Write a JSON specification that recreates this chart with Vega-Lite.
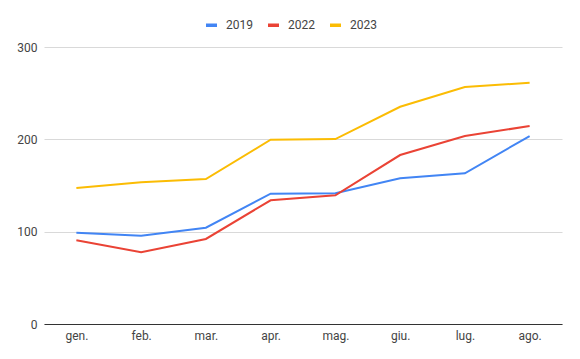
{
  "$schema": "https://vega.github.io/schema/vega-lite/v6.json",
  "width": 518,
  "height": 277,
  "autosize": "none",
  "padding": {"left": 44, "top": 47, "right": 18, "bottom": 35},
  "background": "white",
  "config": {
    "view": {"stroke": null},
    "font": "Roboto",
    "axis": {"labelFont": "Roboto", "labelFontSize": 12, "labelColor": "#444444", "ticks": false, "title": null}
  },
  "data": {
    "values": [
      {"mese": "gen.", "anno": "2019", "valore": 98.9},
      {"mese": "feb.", "anno": "2019", "valore": 95.7},
      {"mese": "mar.", "anno": "2019", "valore": 104.3},
      {"mese": "apr.", "anno": "2019", "valore": 141.1},
      {"mese": "mag.", "anno": "2019", "valore": 141.6},
      {"mese": "giu.", "anno": "2019", "valore": 157.8},
      {"mese": "lug.", "anno": "2019", "valore": 163.2},
      {"mese": "ago.", "anno": "2019", "valore": 203.6},
      {"mese": "gen.", "anno": "2022", "valore": 90.7},
      {"mese": "feb.", "anno": "2022", "valore": 77.7},
      {"mese": "mar.", "anno": "2022", "valore": 92.1},
      {"mese": "apr.", "anno": "2022", "valore": 134.0},
      {"mese": "mag.", "anno": "2022", "valore": 139.4},
      {"mese": "giu.", "anno": "2022", "valore": 183.0},
      {"mese": "lug.", "anno": "2022", "valore": 203.6},
      {"mese": "ago.", "anno": "2022", "valore": 214.4},
      {"mese": "gen.", "anno": "2023", "valore": 147.3},
      {"mese": "feb.", "anno": "2023", "valore": 153.5},
      {"mese": "mar.", "anno": "2023", "valore": 157.0},
      {"mese": "apr.", "anno": "2023", "valore": 199.6},
      {"mese": "mag.", "anno": "2023", "valore": 200.3},
      {"mese": "giu.", "anno": "2023", "valore": 235.3},
      {"mese": "lug.", "anno": "2023", "valore": 256.6},
      {"mese": "ago.", "anno": "2023", "valore": 261.3}
    ]
  },
  "mark": {"type": "line", "strokeWidth": 2},
  "encoding": {
    "x": {
      "field": "mese",
      "type": "ordinal",
      "sort": ["gen.", "feb.", "mar.", "apr.", "mag.", "giu.", "lug.", "ago."],
      "scale": {"type": "point", "padding": 0.5},
      "axis": {"labelAngle": 0, "domainColor": "#333333", "domainWidth": 1, "labelPadding": 6, "grid": false}
    },
    "y": {
      "field": "valore",
      "type": "quantitative",
      "scale": {"domain": [0, 300]},
      "axis": {"values": [0, 100, 200, 300], "domain": false, "gridColor": "#d9d9d9", "labelPadding": 7}
    },
    "color": {
      "field": "anno",
      "type": "nominal",
      "scale": {"domain": ["2019", "2022", "2023"], "range": ["#4285F4", "#EA4335", "#FBBC04"]},
      "legend": {
        "title": null,
        "orient": "none",
        "direction": "horizontal",
        "legendX": 160,
        "legendY": -29.5,
        "padding": 0,
        "symbolType": "stroke",
        "symbolSize": 121,
        "symbolStrokeWidth": 3.5,
        "labelFont": "Roboto",
        "labelFontSize": 12,
        "labelColor": "#444444",
        "labelOffset": 7,
        "columnPadding": 8
      }
    }
  }
}
